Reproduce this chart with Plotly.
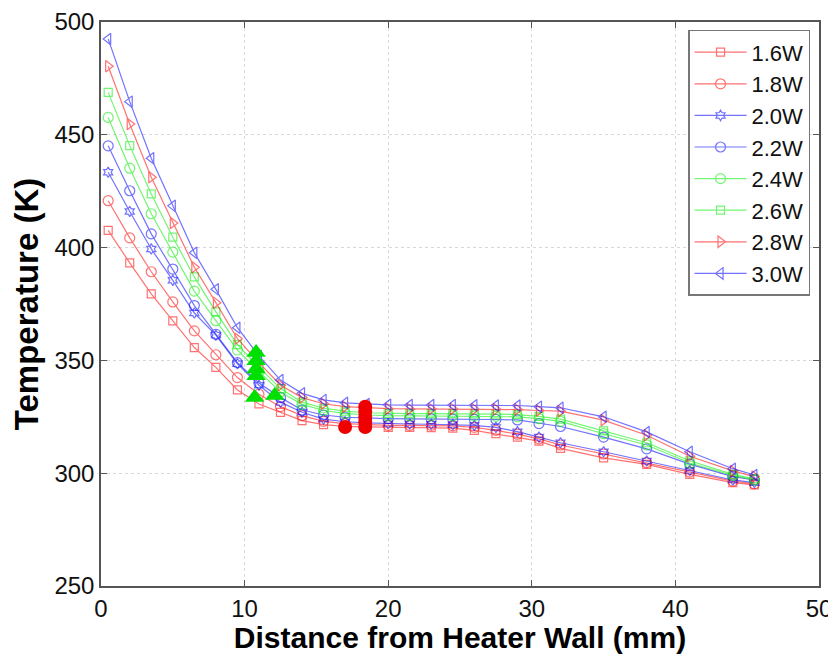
import plotly.graph_objects as go

distance_mm = [0.5, 2, 3.5, 5, 6.5, 8, 9.5, 11, 12.5, 14, 15.5, 17, 18.5, 20, 21.5,
               23, 24.5, 26, 27.5, 29, 30.5, 32, 35, 38, 41, 44, 45.5]

t_1p6 = [407.6, 393.2, 379.5, 367.5, 355.7, 346.9, 336.9, 330.7, 327.0, 323.3, 321.5, 320.8, 320.5,
         320.3, 320.3, 320.2, 320.0, 319.0, 317.5, 316.0, 314.2, 311.0, 306.8, 303.9, 299.5, 295.8, 294.8]
t_1p8 = [420.8, 404.3, 389.3, 375.9, 363.1, 352.5, 342.4, 335.0, 329.5, 325.5, 323.0, 322.0, 321.6,
         321.2, 321.2, 321.2, 321.0, 320.3, 319.0, 317.3, 315.2, 312.5, 308.5, 304.7, 300.5, 296.5, 295.3]
t_2p0 = [433.4, 416.0, 399.4, 385.5, 371.0, 361.2, 348.5, 339.0, 331.5, 327.0, 324.0, 322.8, 322.3,
         321.9, 321.8, 321.7, 321.5, 321.2, 320.3, 318.4, 316.0, 313.5, 309.5, 305.4, 301.2, 297.0, 295.8]
t_2p2 = [445.1, 425.2, 406.1, 390.5, 374.3, 361.6, 349.0, 340.0, 333.5, 328.0, 325.8, 324.8, 324.4,
         324.2, 324.1, 324.1, 324.0, 323.9, 323.8, 323.6, 322.0, 320.7, 316.0, 310.8, 304.0, 298.5, 297.0]
t_2p4 = [457.7, 435.2, 415.0, 398.0, 380.7, 367.6, 354.6, 345.0, 336.0, 330.5, 327.8, 326.5, 325.8,
         325.5, 325.4, 325.4, 325.4, 325.3, 325.2, 325.0, 324.2, 323.0, 317.5, 312.5, 304.5, 299.0, 297.0]
t_2p6 = [468.8, 445.2, 423.8, 404.6, 387.0, 371.5, 357.0, 347.0, 337.5, 331.5, 328.8, 327.5, 326.8,
         326.5, 326.4, 326.4, 326.4, 326.3, 326.2, 326.0, 325.2, 324.0, 318.8, 313.5, 305.5, 299.5, 297.5]
t_2p8 = [480.4, 454.8, 431.2, 410.9, 391.3, 375.6, 359.6, 349.0, 339.0, 333.5, 330.8, 329.5, 329.0,
         328.6, 328.5, 328.5, 328.5, 328.4, 328.3, 328.2, 327.8, 327.5, 323.5, 316.8, 307.5, 301.0, 298.5]
t_3p0 = [492.5, 464.7, 439.6, 418.5, 397.7, 381.5, 364.5, 352.0, 341.3, 335.4, 332.5, 331.2, 330.7,
         330.3, 330.2, 330.2, 330.2, 330.1, 330.0, 330.0, 329.5, 329.0, 325.0, 318.3, 309.5, 302.0, 299.2]

series_names = ["1.6W", "1.8W", "2.0W", "2.2W", "2.4W", "2.6W", "2.8W", "3.0W"]
series_values = [t_1p6, t_1p8, t_2p0, t_2p2, t_2p4, t_2p6, t_2p8, t_3p0]

green_tri_x = [10.8, 10.8, 10.8, 10.8, 10.7, 12.1]
green_tri_y = [353.5, 349.8, 346.2, 343.2, 333.6, 334.4]
red_dot_x = [17.0, 18.4, 18.4, 18.4, 18.4, 18.4]
red_dot_y = [320.5, 329.5, 327.3, 325.0, 322.8, 320.5]

x_ticks = [0, 10, 20, 30, 40, 50]
y_ticks = [250, 300, 350, 400, 450, 500]

colors = ["#ff0000", "#ff0000", "#0000ff", "#0000ff", "#00ee00", "#00ee00", "#ff0000", "#0000ff"]
symbols = ["square-open", "circle-open", "hexagram-open", "circle-open", "circle-open",
           "square-open", "triangle-right-open", "triangle-left-open"]
sizes = [8, 10, 8, 10, 10, 8, 10, 10]

fig = go.Figure()
for name, vals, c, s, sz in zip(series_names, series_values, colors, symbols, sizes):
    fig.add_trace(go.Scatter(
        x=distance_mm, y=vals, name=name, mode="lines+markers",
        line=dict(color=c, width=1.2), opacity=0.55,
        marker=dict(symbol=s, size=sz, color=c, line=dict(color=c, width=1.2)),
    ))

fig.add_trace(go.Scatter(x=green_tri_x, y=green_tri_y, mode="markers", showlegend=False,
                         marker=dict(symbol="triangle-up", size=17, color="#00e000")))
fig.add_trace(go.Scatter(x=red_dot_x, y=red_dot_y, mode="markers", showlegend=False,
                         marker=dict(symbol="circle", size=14, color="#ee0000")))

axis_common = dict(
    showline=True, linecolor="#555555", linewidth=1.5, mirror="ticks",
    ticks="inside", ticklen=6, tickcolor="#555555",
    showgrid=True, gridcolor="#d8d8d8", griddash="dot", gridwidth=1,
    zeroline=False,
    tickfont=dict(family="Liberation Sans, Arial", size=24, color="#111111"),
)

fig.update_xaxes(range=[0, 50], tickvals=x_ticks, automargin=False,
                 title=dict(text="<b>Distance from Heater Wall (mm)</b>",
                            font=dict(family="Liberation Sans, Arial", size=30, color="#000000")),
                 **axis_common)
fig.update_yaxes(range=[250, 500], tickvals=y_ticks, automargin="left",
                 title=dict(text="<b>Temperature (K)</b>",
                            font=dict(family="Liberation Sans, Arial", size=33, color="#000000"),
                            standoff=6),
                 **axis_common)

# page body adds an 8px margin; the figure is sized to sit the plot where the reference has it
fig.update_layout(
    width=828, height=646,
    margin=dict(l=93, r=17, t=14, b=68),
    plot_bgcolor="white", paper_bgcolor="white",
    legend=dict(x=0.9875, y=0.986, xanchor="right", yanchor="top",
                bgcolor="white", bordercolor="#777777", borderwidth=1.5,
                font=dict(family="Liberation Sans, Arial", size=22, color="#111111"),
                tracegroupgap=0, itemwidth=52),
    showlegend=True,
)

fig.write_html("out.html")
